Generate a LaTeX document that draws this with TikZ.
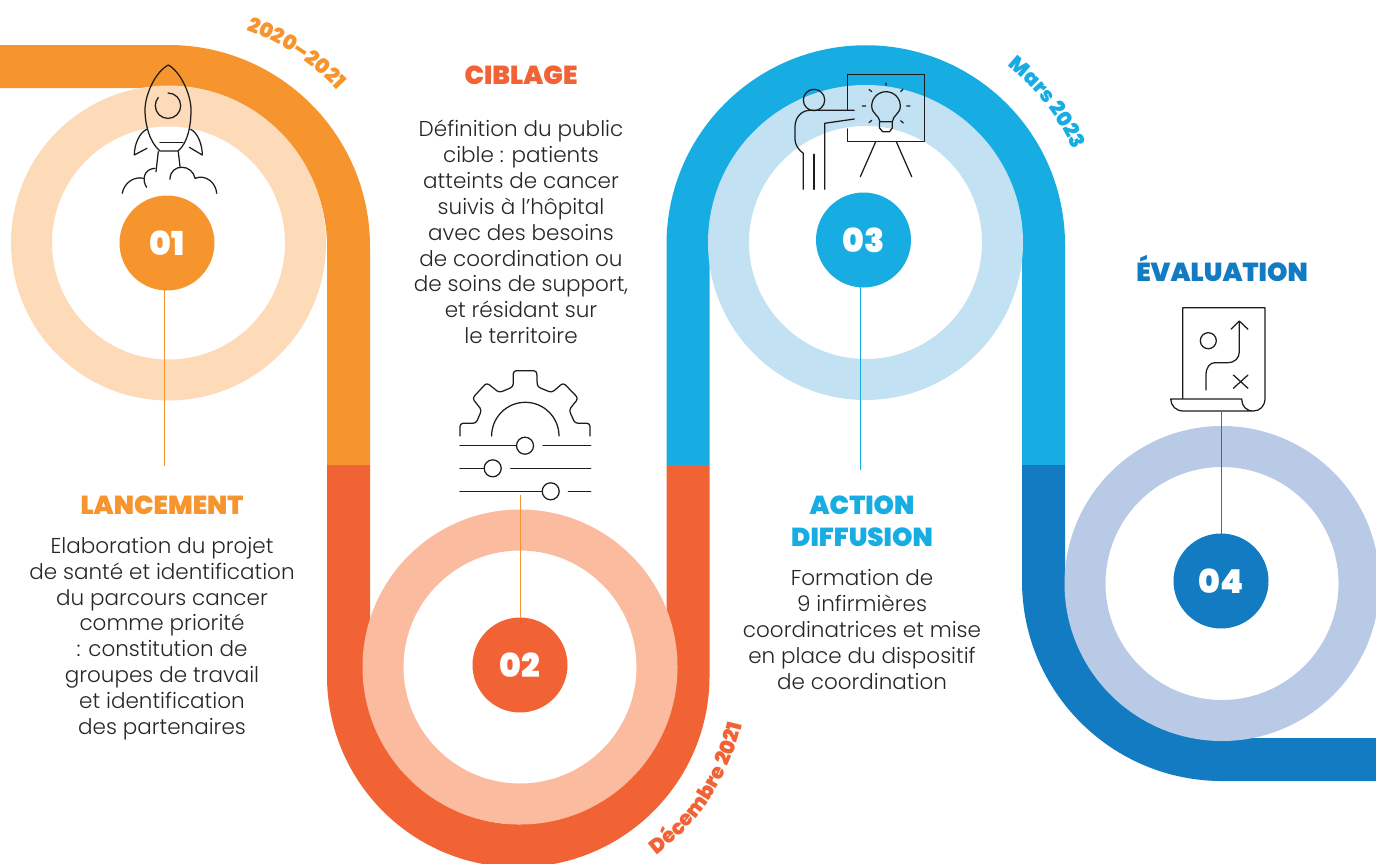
\documentclass[tikz,border=0pt]{standalone}
\usepackage{fontspec}
\setmainfont{Poppins Light}
\newfontfamily\blackfont{Poppins Black}
\usetikzlibrary{decorations.text}
\definecolor{corange}{HTML}{F6942E}
\definecolor{corangel}{HTML}{FDDAB8}
\definecolor{cred}{HTML}{F16334}
\definecolor{credl}{HTML}{FBBB9F}
\definecolor{cblue}{HTML}{17ADE3}
\definecolor{cbluel}{HTML}{C2E2F4}
\definecolor{cdark}{HTML}{137BC1}
\definecolor{cdarkl}{HTML}{B9CAE7}
\definecolor{cink}{HTML}{1C1C1C}
\tikzset{
  track/.style={line width=43bp,draw=#1},
  ringband/.style={line width=41bp,draw=#1},
  numdisc/.style={circle,fill=#1,minimum size=95bp,inner sep=0pt,text=white,font=\blackfont\fontsize{33bp}{33bp}\selectfont},
  heading/.style={text=#1,font=\blackfont\fontsize{26bp}{32bp}\selectfont,align=center,inner sep=0pt},
  bodytext/.style={text=black!85,font=\fontsize{21.5bp}{25.85bp}\selectfont,align=center,inner sep=0pt},
  link/.style={draw=#1,line width=1bp},
  icon/.style={draw=cink,line width=1.25bp,line cap=round,line join=round}
}
\begin{document}
\begin{tikzpicture}[x=1bp,y=-1bp]
\useasboundingbox (0,0) rectangle (1376,863);
\clip (0,0) rectangle (1376,863);
% tracks
\draw[track=corange] (0,66.5) -- (168.5,66.5) arc[start angle=90,end angle=0,radius=180bp] -- (348.5,465);
\draw[track=cred] (348.5,465) -- (348.5,676) arc[start angle=180,end angle=360,radius=169.75bp] -- (688,465);
\draw[track=cblue] (688,465) -- (688,244.5) arc[start angle=180,end angle=0,radius=177.75bp] -- (1043.5,465);
\draw[track=cdark] (1043.5,465) -- (1043.5,581) arc[start angle=180,end angle=270,radius=178.5bp] -- (1376,759.5);
% rings
\draw[ringband=corangel] (168.5,243) circle[radius=137bp];
\draw[ringband=credl] (520,667) circle[radius=137bp];
\draw[ringband=cbluel] (865.5,242.5) circle[radius=137bp];
\draw[ringband=cdarkl] (1222,583.5) circle[radius=137bp];
% numbered discs
\node[numdisc=corange] (n1) at (167,243) {01};
\node[numdisc=cred] (n2) at (520,665) {02};
\node[numdisc=cblue] (n3) at (863.5,240) {03};
\node[numdisc=cdark] (n4) at (1221,581) {04};
% free ends of the connectors
\coordinate (e1) at (164,466);
\coordinate (e2) at (520,495);
\coordinate (e3) at (860.5,470);
\coordinate (e4) at (1221,412);
\draw[link=corange] (164,290) -- (e1);
\draw[link=corange] (e2) -- (520,618);
\draw[link=cblue] (860.5,287) -- (e3);
\draw[link=cdark] (e4) -- (1221,534);
% headings
\node[heading=corange] (h1) at (162,505) {LANCEMENT};
\node[heading=cred] (h2) at (521,75) {CIBLAGE};
\node[heading=cblue] (h3) at (862,521) {ACTION\\DIFFUSION};
\node[heading=cdark] (h4) at (1222,268) {ÉVALUATION};
% bodies
\node[bodytext] (b1) at (162,638.5) {Elaboration du projet\\de santé et identification\\du parcours cancer\\comme priorité\\: constitution de\\groupes de travail\\et identification\\des partenaires};
\node[bodytext] (b2) at (521,232) {Définition du public\\cible : patients\\atteints de cancer\\suivis à l’hôpital\\avec des besoins\\de coordination ou\\de soins de support,\\et résidant sur\\le territoire};
\node[bodytext] (b3) at (862,629.5) {Formation de\\9 infirmières\\coordinatrices et mise\\en place du dispositif\\de coordination};
% dates along the track
\path[decorate,decoration={text along path,text align=center,text={|\blackfont\fontsize{20.5bp}{20bp}\selectfont\color{corange}|2020–2021}}]
  (168.5,246.5) ++(76:230bp) arc[start angle=76,end angle=37,radius=230bp];
\path[decorate,decoration={text along path,text align=center,text={|\blackfont\fontsize{20.5bp}{20bp}\selectfont\color{cblue}|Mars 2023}}]
  (865.75,244.5) ++(62:228bp) arc[start angle=62,end angle=14,radius=228bp];
\path[decorate,decoration={text along path,text align=center,text={|\blackfont\fontsize{20.5bp}{20bp}\selectfont\color{cred}|Décembre 2021}}]
  (518,672) ++(-60:230bp) arc[start angle=-60,end angle=-6,radius=230bp];
% rocket
\draw[icon] (168.3,65) .. controls (155,72) and (145,95) .. (145,110) .. controls (145,125) and (150,143) .. (160,151) -- (178,151) .. controls (188,143) and (191,125) .. (191,110) .. controls (191,95) and (181,72) .. (168.3,65);
\draw[icon] (160,142.3) -- (183,142.3);
\draw[icon] (168,93) arc[start angle=90,end angle=-220,radius=12.7bp];
\draw[icon] (146.7,129.3) .. controls (139,133) and (134.3,145) .. (134.3,155) -- (147,148.3);
\draw[icon] (190.7,129.3) .. controls (198,133) and (202.3,145) .. (202.3,155) -- (189.3,147.3);
\draw[icon] (158.3,151.7) -- (156,171.7);
\draw[icon] (178.3,151.7) -- (180,166.7);
\draw[icon] (122.3,193.3) .. controls (124,183) and (134,176) .. (143.3,178.3);
\draw[icon] (146.7,187.3) .. controls (142,181) and (143,169) .. (155,168.3);
\draw[icon] (170,179.3) .. controls (170,171) and (176,167) .. (182,167.3) .. controls (188,167) and (194,172) .. (195,178.3) .. controls (206,174) and (216,183) .. (216.7,193.3);
% gear and sliders
\draw[icon,rounded corners=3bp] (460,436) -- (460,423.3) -- (476,423.3) -- (481.7,410) -- (472.3,398.3) -- (486.7,382.7) -- (499.3,392.7) -- (513.3,386.7) -- (513.3,370.7) -- (536.7,370.7) -- (537.3,386.7) -- (551.7,392.7) -- (563.3,382.7) -- (578.3,398.3) -- (569,410) -- (575,423.3) -- (590,423.3) -- (590,436);
\draw[icon] (491.6,436) arc[start angle=180,end angle=0,radius=33.7bp];
\draw[icon] (460,445.7) -- (516.5,445.7) (543,445.7) -- (590.7,445.7);
\draw[icon] (525,445.7) circle[radius=8.5bp];
\draw[icon] (460,468.3) -- (484.2,468.3) (510.7,468.3) -- (590.7,468.3);
\draw[icon] (492.7,468.3) circle[radius=8.5bp];
\draw[icon] (460,491.3) -- (542.2,491.3) (568.3,491.3) -- (590.7,491.3);
\draw[icon] (550.7,491.3) circle[radius=8.5bp];
% presenter
\draw[icon] (847.7,110) -- (847.7,74.3) -- (924.3,74.3) -- (924.3,141.7) -- (847.7,141.7) -- (847.7,129);
\draw[icon] (875.7,141.7) -- (860.3,176.7) (896.3,141.7) -- (911.7,176.7);
\draw[icon] (814,100) circle[radius=10.7bp];
\draw[icon] (854.3,110.3) -- (810,110.3) .. controls (801,110.3) and (795,118) .. (795,126.7) -- (795,138.3) .. controls (795,146) and (799,150) .. (803.3,153.3) -- (803.3,189.3);
\draw[icon] (814,154.3) -- (814,189.3);
\draw[icon] (824.7,189.3) -- (824.7,123.3) -- (854.3,119);
\draw[icon] (880,121.7) .. controls (879,115) and (871.7,114) .. (871.7,106) arc[start angle=180,end angle=0,radius=14.3bp] .. controls (900.3,114) and (893,115) .. (892.3,121.7) -- cycle;
\draw[icon] (879.5,121.7) -- (879.5,128) -- (882.7,131.7) -- (889.5,131.7) -- (892.3,128) -- (892.3,121.7);
\draw[icon] (886,83) -- (886,85.3) (869,89.3) -- (871.7,91.7) (900.7,91.7) -- (903,89) (862.3,106) -- (865.7,106) (906.7,106) -- (910,106) (869,122.7) -- (871.7,120.3) (900.7,120.7) -- (903.3,123);
% scroll
\draw[icon] (1182.7,397.7) -- (1182.7,307.7) -- (1265,307.7) -- (1265,398.3) .. controls (1265,406) and (1260,411) .. (1253.3,411) .. controls (1246,411) and (1241.7,406) .. (1241.7,399) -- (1170.7,399) .. controls (1171,406) and (1176,411) .. (1183.3,411) -- (1253.3,411);
\draw[icon] (1208.3,340.7) circle[radius=8bp];
\draw[icon] (1206,390) -- (1206,375) .. controls (1206,367) and (1210,362.7) .. (1215,362.7) -- (1227.3,362.7) .. controls (1235,362.7) and (1239.3,358) .. (1239.3,351.7) -- (1239.3,322);
\draw[icon] (1231,329.3) -- (1239.3,321) -- (1248,329.3);
\draw[icon] (1233.3,375) -- (1248,388.3) (1248,375) -- (1233.3,388.3);
\end{tikzpicture}
\end{document}
